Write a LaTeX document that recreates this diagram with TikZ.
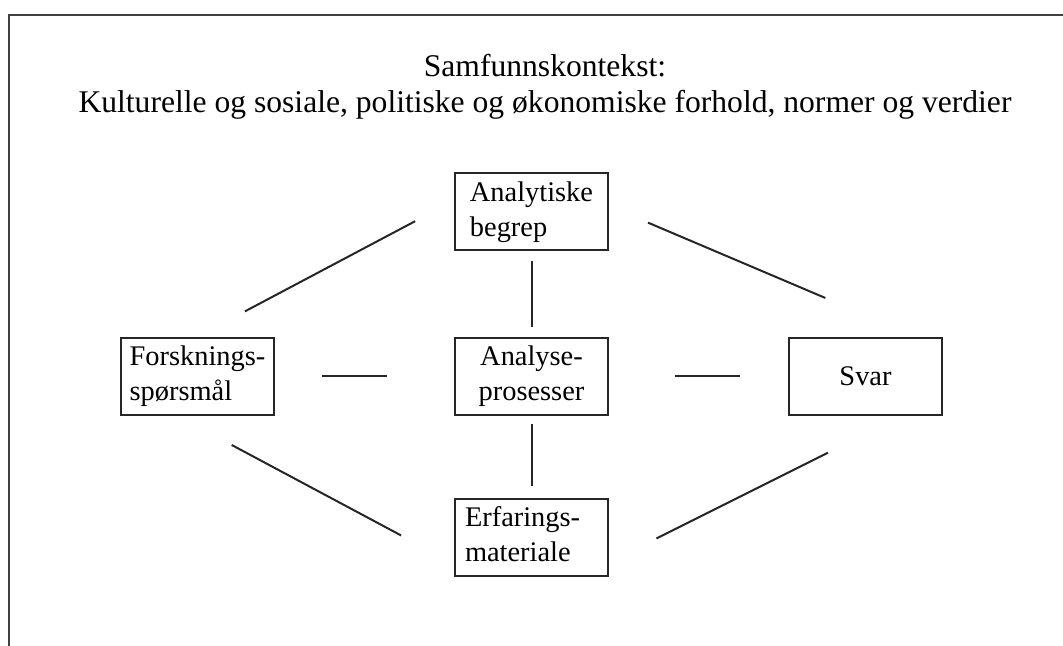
\documentclass[tikz,border=0pt]{standalone}
\usepackage{fontspec}
\setmainfont{Liberation Serif}
\usetikzlibrary{matrix}
\newcommand{\linjer}[3]{\begin{tabular}{@{}#1@{}}#2\\#3\end{tabular}}

\begin{document}
\begin{tikzpicture}[x=0.5pt,y=-0.5pt,
  boks/.style={draw=black!85,line width=1pt,minimum width=76.5pt,minimum height=38.5pt,inner ysep=1pt,anchor=center,font=\fontsize{14.2pt}{17.5pt}\selectfont},
  strek/.style={draw=black!85,line width=1pt}]
\useasboundingbox (0,0) rectangle (1063,646);
\draw[black!75,line width=1pt] (8.7,646) -- (8.7,14.7) -- (1063,14.7);

\node (kontekst) at (545,86.6) [align=center,font=\fontsize{15.8pt}{18pt}\selectfont] {Samfunnskontekst:\\Kulturelle og sosiale, politiske og økonomiske forhold, normer og verdier};

\matrix (m)[matrix of nodes, at={(531.5,374.25)}, column sep=89.5pt, row sep=42.75pt, nodes={boks}]{
 & \linjer{l}{Analytiske}{begrep} & \\
\linjer{l}{Forsknings-}{spørsmål} & \linjer{c}{Analyse-}{prosesser} & Svar\\[-1.75pt]
 & |[text width=66.5pt,inner xsep=5pt]| \linjer{l}{Erfarings-}{materiale} & \\
};

\draw[strek,shorten <=22pt,shorten >=26.8pt] (m-1-2.172)--(m-2-1.north);
\draw[strek,shorten <=21.2pt,shorten >=49.3pt] (m-1-2.4)--(m-2-3.38);
\draw[strek,shorten <=31.3pt,shorten >=30pt] (m-2-1.242)--(m-3-2.199);
\draw[strek,shorten <=41.6pt,shorten >=26.5pt] (m-2-3.313)--(m-3-2.342);
\draw[strek,shorten <=5pt,shorten >=4.75pt] (m-1-2.south)--(m-2-2.north);
\draw[strek,shorten <=4.25pt,shorten >=5.75pt] (m-2-2.south)--(m-3-2.north);
\draw[strek,shorten <=23.5pt,shorten >=33.5pt] (m-2-1.east)--(m-2-2.west);
\draw[strek,shorten <=33pt,shorten >=24pt] (m-2-2.east)--(m-2-3.west);
\end{tikzpicture}
\end{document}
